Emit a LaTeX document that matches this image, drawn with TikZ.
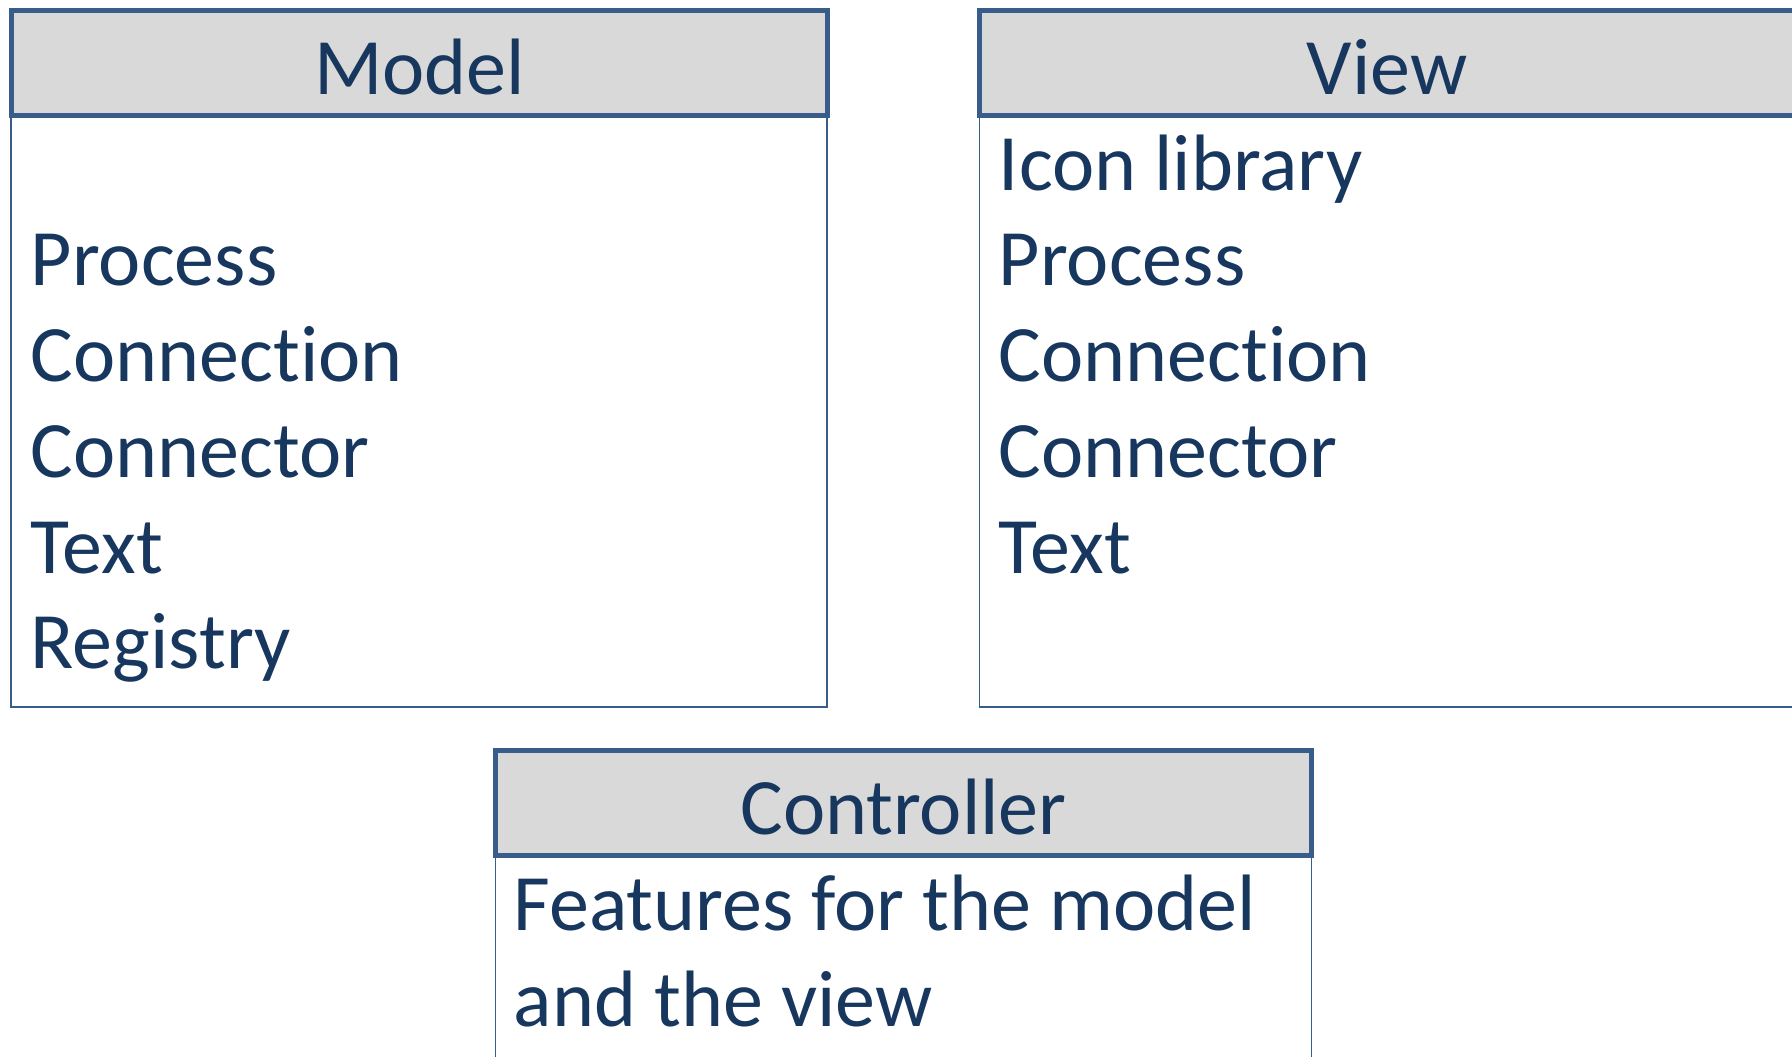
\documentclass[tikz,border=0pt]{standalone}
\usepackage{fontspec}
\setmainfont{Carlito}[Ligatures={NoCommon}]
\definecolor{edgeblue}{HTML}{385D8A}
\definecolor{txtblue}{HTML}{17375E}
\definecolor{headgray}{HTML}{D9D9D9}
\begin{document}
\begin{tikzpicture}[x=0.5pt,y=-0.5pt,
  bodybox/.style={draw=edgeblue,line width=0.75pt},
  headbox/.style={draw=edgeblue,fill=headgray,line width=2.5pt},
  title/.style={anchor=base,inner sep=0pt,text=txtblue,font=\fontsize{40}{48}\selectfont},
  item/.style={anchor=base west,inner sep=0pt,text=txtblue,font=\fontsize{40}{48}\selectfont}]
\useasboundingbox (0,0) rectangle (1792,1056);
% Model
\draw[bodybox] (11,115.5) rectangle (827,707);
\draw[headbox] (11.5,10) rectangle (827.5,115.5);
\node[title] (mtitle) at (419.5,94) {Model};
\node[item] (m1) at (30.5,285.7) {Process};
\node[item] (m2) at (30.5,381.5) {Connection};
\node[item] (m3) at (30.5,477.3) {Connector};
\node[item] (m4) at (30.5,573.1) {Text};
\node[item] (m5) at (30.5,668.9) {Registry};
% View
\draw[bodybox] (979.5,115.5) rectangle (1797,707);
\draw[headbox] (979.5,10) rectangle (1797,115.5);
\node[title] (vtitle) at (1387,94) {View};
\node[item] (v0) at (998.5,190) {Icon library};
\node[item] (v1) at (998.5,285.7) {Process};
\node[item] (v2) at (998.5,381.5) {Connection};
\node[item] (v3) at (998.5,477.3) {Connector};
\node[item] (v4) at (998.5,573.1) {Text};
% Controller
\draw[bodybox] (495.5,855.5) rectangle (1311.5,1070);
\draw[headbox] (495.5,750.5) rectangle (1311.5,855.5);
\node[title] (ctitle) at (903.5,834) {Controller};
\node[item] (c1) at (513.5,930.7) {Features for the model};
\node[item] (c2) at (513.5,1026.7) {and the view};
\end{tikzpicture}
\end{document}
